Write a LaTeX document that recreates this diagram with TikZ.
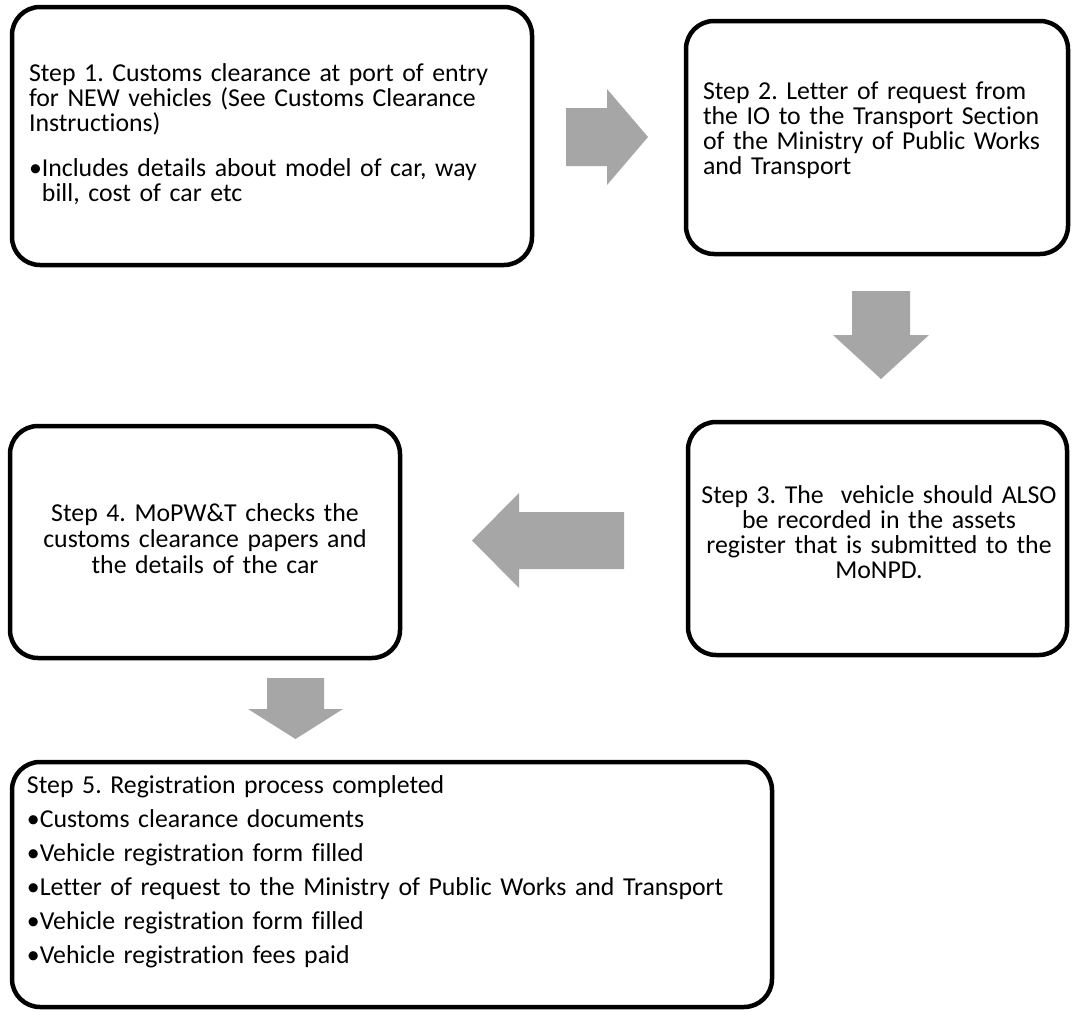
\documentclass[tikz,border=0pt]{standalone}
\usepackage{fontspec}
\setmainfont{Carlito}[Ligatures={NoCommon}]
\frenchspacing
\usetikzlibrary{calc}
\definecolor{arrowgray}{RGB}{166,166,166}
\begin{document}
\begin{tikzpicture}[x=1pt,y=-1pt,
  stepbox/.style={draw=black, line width=4.5pt, rounded corners=28pt, inner sep=0pt, outer sep=0pt},
  steptext/.style={inner sep=0pt, outer sep=0pt, font=\fontsize{25.8}{25}\selectfont},
  leftlines/.style={steptext, anchor=base west, text width=740pt, align=left},
  midlines/.style={steptext, anchor=base, text width=380pt, align=center},
  blockarrow/.style={fill=arrowgray, draw=none}]
\path[use as bounding box, fill=white] (0,0) rectangle (1072,1012);

% boxes
\node[stepbox, minimum width=520pt, minimum height=258pt] (b1) at (272,136) {};
\node[stepbox, minimum width=382pt, minimum height=233pt] (b2) at (877,137.5) {};
\node[stepbox, minimum width=379pt, minimum height=233pt] (b3) at (877.5,538.5) {};
\node[stepbox, minimum width=390pt, minimum height=232pt] (b4) at (205,542) {};
\node[stepbox, minimum width=760pt, minimum height=245pt] (b5) at (392,884.5) {};

% texts
\node[leftlines] (t1) at (29,81)
  {Step 1. Customs clearance at port of entry\\for NEW vehicles (See Customs Clearance\\Instructions)\\[20pt]%
   •Includes details about model of car, way\\\hspace*{13pt}bill, cost of car etc};
\node[leftlines] (t2) at (703,99)
  {Step 2. Letter of request from\\the IO to the Transport Section\\of the Ministry of Public Works\\and Transport};
\node[midlines] (t3) at (879,503)
  {Step 3. The\ \ vehicle should ALSO\\be recorded in the assets\\register that is submitted to the\\MoNPD.};
\node[midlines, font=\fontsize{25.8}{26}\selectfont] (t4) at (205,521)
  {Step 4. MoPW\&T checks the\\customs clearance papers and\\the details of the car};
\node[leftlines, font=\fontsize{25.8}{34}\selectfont] (t5) at (27,793)
  {Step 5. Registration process completed\\
   •Customs clearance documents\\
   •Vehicle registration form filled\\
   •Letter of request to the Ministry of Public Works and Transport\\
   •Vehicle registration form filled\\
   •Vehicle registration fees paid};

% block arrows between the steps
\coordinate (a12) at (607,137);
\coordinate (a23) at (881,335);
\coordinate (a34) at (548,540.5);
\coordinate (a45) at (295.5,709);

\fill[blockarrow, shift={(a12)}] (-41,-29) -- (0,-29) -- (0,-48) -- (41,0) -- (0,48) -- (0,29) -- (-41,29) -- cycle;
\fill[blockarrow, shift={(a23)}] (-29,-44) -- (29,-44) -- (29,0) -- (48,0) -- (0,44) -- (-48,0) -- (-29,0) -- cycle;
\fill[blockarrow, shift={(a34)}] (76,-28.5) -- (-29,-28.5) -- (-29,-47.5) -- (-76,0) -- (-29,47.5) -- (-29,28.5) -- (76,28.5) -- cycle;
\fill[blockarrow, shift={(a45)}] (-28.5,-31) -- (28.5,-31) -- (28.5,0) -- (47.5,0) -- (0,30) -- (-47.5,0) -- (-28.5,0) -- cycle;
\end{tikzpicture}
\end{document}
